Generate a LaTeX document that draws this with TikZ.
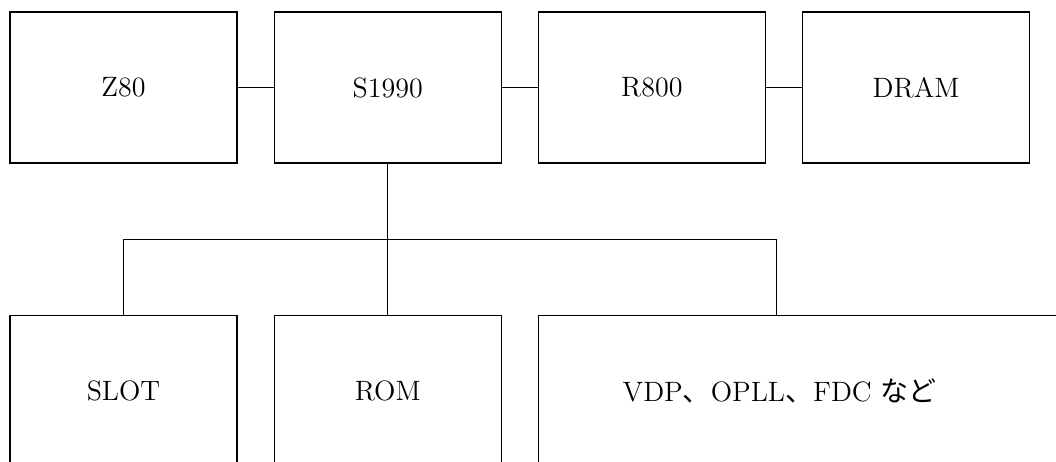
\documentclass[tikz,border=0pt]{standalone}
\usepackage{fontspec}
\newfontfamily\cjk{Noto Sans CJK JP}
\usepackage{tikz}
\usetikzlibrary{positioning}

\begin{document}
\begin{tikzpicture}[node distance=18pt, line width=0.6pt,
    unit/.style={draw, rectangle, minimum width=113.5pt, minimum height=75.5pt,
      inner sep=0pt, font=\fontsize{14}{16}\selectfont}]
                \clip (0,0) rectangle (528pt,230.5pt);
                \node[unit] (z80) at (61.75pt,186.75pt) {Z80};
                \node[unit] (s1990) [right=of z80] {S1990};
                \node[unit] (r800) [right=of s1990] {R800};
                \node[unit] (dram) [right=of r800] {DRAM};

                \node[unit] (slot) [below=75.5pt of z80] {SLOT};
                \node[unit] (rom) [below=75.5pt of s1990] {ROM};
                \node[unit, minimum width=270pt, anchor=north west] (vdp)
                    at ([yshift=-75.5pt]r800.south west) {};
                \node[font=\fontsize{14}{16}\selectfont] (vdptext) at ([xshift=121pt]vdp.west)
                    {VDP{\cjk 、}OPLL{\cjk 、}FDC {\cjk など}};

                \coordinate[below=38pt of s1990.south] (bus);
                \coordinate (vdpin) at ([xshift=119.5pt]vdp.north west);

                \path
                (z80) edge (s1990)
                (s1990) edge (r800)
                (r800) edge (dram)
                (s1990) edge (rom);
                \draw (slot.north) |- (bus) -| (vdpin);
            \end{tikzpicture}
\end{document}
